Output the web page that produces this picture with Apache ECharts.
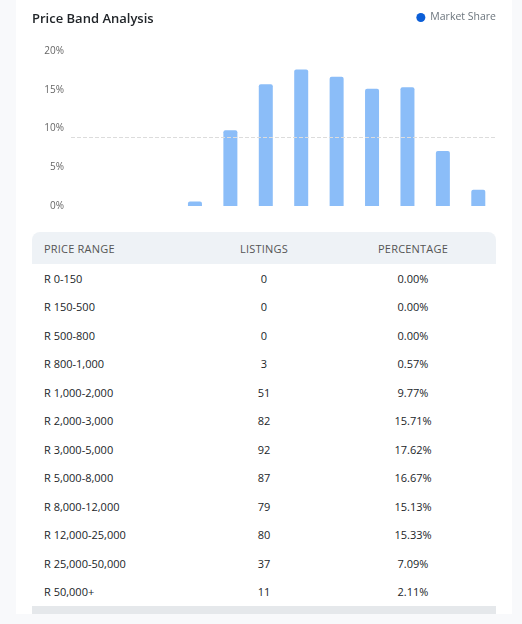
<!DOCTYPE html>
<html>
<head>
<meta charset="utf-8">
<script src="https://cdn.jsdelivr.net/npm/echarts@6/dist/echarts.min.js"></script>
<style>
  html, body { margin: 0; padding: 0; background: #f8f9fb; font-family: 'Open Sans', sans-serif; }
  .card { position: absolute; left: 16px; top: 0; width: 496px; height: 614px; background: #fff; }
  #chart { position: absolute; left: 0; top: 0; width: 522px; height: 225px; }
  .band-table { position: absolute; left: 32px; top: 232px; width: 464px; border-collapse: collapse; }
  .band-table th { height: 32px; background: #eef2f6; font-size: 11px; font-weight: 400; color: #555; text-transform: uppercase; letter-spacing: 0.2px; padding: 0; }
  .band-table th:first-child { border-top-left-radius: 8px; }
  .band-table th:last-child { border-top-right-radius: 8px; }
  .band-table td { height: 28.5px; font-size: 11px; color: #212529; padding: 0; }
  .band-table .c1 { text-align: left; padding-left: 12px; width: 154px; }
  .band-table .c2 { text-align: center; width: 132px; }
  .band-table .c3 { text-align: center; width: 166px; }
  .footer { position: absolute; left: 32px; top: 606px; width: 464px; height: 8px; background: #e5e8eb; }
</style>
</head>
<body>
<div class="card"></div>
<div id="chart"></div>
<table class="band-table">
  <thead>
    <tr><th class="c1">Price Range</th><th class="c2">Listings</th><th class="c3">Percentage</th></tr>
  </thead>
  <tbody id="rows"></tbody>
</table>
<div class="footer"></div>
<script>
const priceRanges = ['R 0-150', 'R 150-500', 'R 500-800', 'R 800-1,000', 'R 1,000-2,000', 'R 2,000-3,000',
  'R 3,000-5,000', 'R 5,000-8,000', 'R 8,000-12,000', 'R 12,000-25,000', 'R 25,000-50,000', 'R 50,000+']
const listings = [0, 0, 0, 3, 51, 82, 92, 87, 79, 80, 37, 11]
const percentages = [0, 0, 0, 0.57, 9.77, 15.71, 17.62, 16.67, 15.13, 15.33, 7.09, 2.11]
const referenceLine = 8.85

// table rows
const tbody = document.getElementById('rows')
priceRanges.forEach((name, i) => {
  const tr = document.createElement('tr')
  tr.innerHTML = `<td class="c1">${name}</td><td class="c2">${listings[i]}</td><td class="c3">${percentages[i].toFixed(2)}%</td>`
  tbody.appendChild(tr)
})

const myChart = echarts.init(document.getElementById('chart'))
myChart.setOption({
  animation: false,
  textStyle: { fontFamily: 'Open Sans' },
  title: {
    text: 'Price Band Analysis',
    left: 32,
    top: 13,
    padding: 0,
    textStyle: { fontSize: 13, fontWeight: 600, color: '#212529' }
  },
  legend: {
    right: 26,
    top: 12,
    padding: 0,
    icon: 'circle',
    itemWidth: 9,
    itemHeight: 9,
    itemGap: 6,
    textStyle: { fontSize: 10.5, color: '#6c757d' },
    data: [{ name: 'Market Share', itemStyle: { color: '#0b5ed7' } }]
  },
  grid: { left: 71, right: 26, top: 51, bottom: 19 },
  xAxis: {
    type: 'category',
    data: priceRanges,
    axisLine: { show: false },
    axisTick: { show: false },
    axisLabel: { show: false }
  },
  yAxis: {
    type: 'value',
    min: 0,
    max: 20,
    interval: 5,
    splitLine: { show: false },
    axisLabel: { formatter: '{value}%', fontSize: 10, color: '#666', margin: 7 }
  },
  series: [{
    name: 'Market Share',
    type: 'bar',
    data: percentages,
    barWidth: 14,
    itemStyle: { color: '#8bbdf8', borderRadius: [2, 2, 0, 0] },
    markLine: {
      silent: true,
      symbol: 'none',
      label: { show: false },
      lineStyle: { type: 'dashed', color: '#dcdcdc', width: 1 },
      data: [{ yAxis: referenceLine }]
    }
  }]
})
</script>
</body>
</html>
